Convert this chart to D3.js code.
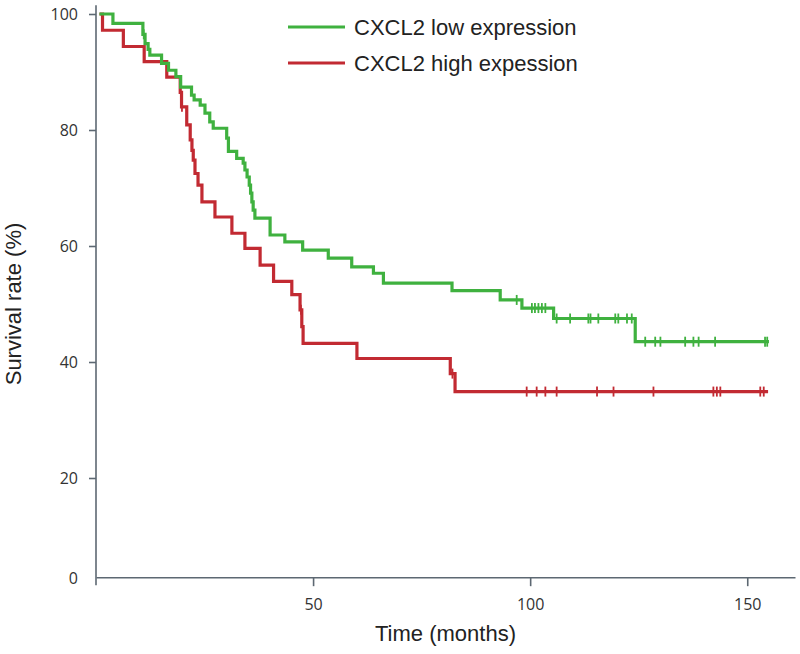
<!DOCTYPE html>
<html>
<head>
<meta charset="utf-8">
<script src="https://cdn.jsdelivr.net/npm/d3@7"></script>
<style>
  body { margin: 0; background: #fff; }
  svg { display: block; }
</style>
</head>
<body>
<svg id="drawing_region"></svg>
<script>
// Kaplan-Meier steps: survival (%) from each time (months) onward
const low_times = [0.8, 3.9, 10.8, 11.3, 12.0, 12.4, 15.1, 16.7, 18.4, 19.5, 22.0, 22.6, 24.0, 25.1, 26.2, 27.0,
                   30.1, 30.5, 32.4, 33.9, 34.3, 34.8, 35.3, 35.6, 35.9, 36.2, 36.6, 40.1, 43.5, 47.6, 53.5,
                   58.9, 63.9, 66.2, 82.0, 93.1, 98.1, 105.4, 124.2];
const low_surv  = [100, 98.4, 96.5, 94.9, 93.9, 92.9, 91.5, 90.3, 89.2, 87.4, 86.0, 85.2, 84.3, 82.9, 81.4, 80.3,
                   78.6, 76.3, 75.1, 74.3, 73.1, 71.9, 70.5, 69.1, 67.6, 66.2, 64.8, 61.9, 60.7, 59.3, 57.9,
                   56.4, 55.3, 53.6, 52.3, 50.7, 49.3, 47.5, 43.5];
const low_censor = [11.0, 96.9, 100.4, 101.1, 101.9, 102.7, 103.5, 106.1, 109.2, 113.4, 113.9, 115.7, 119.6,
                    120.3, 122.3, 123.4, 126.5, 128.8, 130.0, 135.7, 137.6, 138.8, 142.6, 154.1, 154.6];
const low_end = 155;

const high_times = [0.8, 1.5, 6.3, 11.1, 16.3, 19.4, 19.7, 20.9, 21.7, 22.1, 22.4, 22.8, 23.5, 24.4, 27.4, 31.3,
                    34.3, 37.8, 40.9, 45.1, 47.0, 47.4, 47.7, 60.1, 81.6, 82.7];
const high_surv  = [100, 97.2, 94.4, 91.8, 89.1, 86.5, 84.0, 80.9, 78.3, 76.5, 74.8, 72.5, 70.5, 67.6, 65.0, 62.2,
                    59.6, 56.7, 53.9, 51.6, 49.0, 46.1, 43.2, 40.6, 38.0, 34.9];
const high_censor = [19.8, 47.2, 82.1, 99.2, 101.5, 103.5, 106.1, 115.4, 119.2, 128.4, 142.2, 143.0, 143.8,
                     153.0, 153.8];
const high_end = 154.8;

const series_names  = ["CXCL2 low expression", "CXCL2 high expession"];
const series_colors = ["#3fb13f", "#c22a32"];
const x_ticks = [50, 100, 150];
const y_ticks = [20, 40, 60, 80, 100];

const config = {
  parent: '#drawing_region',
  width: 800,
  height: 654,
  margin: {top: 14, right: 5, bottom: 60, left: 96}
};

const groups = [
  {name: series_names[1], color: series_colors[1], times: high_times, surv: high_surv, censor: high_censor, end: high_end},
  {name: series_names[0], color: series_colors[0], times: low_times, surv: low_surv, censor: low_censor, end: low_end}
];

class SurvivalPlot {

  constructor( config, data ) {
    this.config = config;
    this.data = data;
    this.init();
  }

  init() {
    let self = this;

    self.svg = d3.select( self.config.parent )
        .attr('width', self.config.width)
        .attr('height', self.config.height);

    self.chart = self.svg.append('g')
        .attr('transform', `translate(${self.config.margin.left}, ${self.config.margin.top})`);

    self.inner_width = 699;
    self.inner_height = 580;

    self.xscale = d3.scaleLinear()
        .domain([0, 161])
        .range([0, self.inner_width]);

    self.yscale = d3.scaleLinear()
        .domain([0, 100])
        .range([self.inner_height, 0]);

    // the x axis sits a little above survival 0
    self.base = self.yscale(2.9);

    self.xaxis = d3.axisBottom( self.xscale )
        .tickValues(x_ticks)
        .tickSize(9)
        .tickPadding(12)
        .tickSizeOuter(0);

    self.yaxis = d3.axisLeft( self.yscale )
        .tickValues(y_ticks)
        .tickSize(7)
        .tickPadding(11)
        .tickSizeOuter(0);
  }

  render() {
    let self = this;
    const axis_color = '#5d6872';

    const xg = self.chart.append('g')
        .attr('transform', `translate(0, ${self.base})`)
        .call(self.xaxis);

    const yg = self.chart.append('g')
        .call(self.yaxis);
    yg.select('.domain').remove();

    yg.append('line')
        .attr('x1', 0).attr('x2', 0)
        .attr('y1', self.yscale(101.5))
        .attr('y2', self.base + 8);

    // "0" label placed on the x axis line
    yg.append('text')
        .attr('x', -18)
        .attr('y', self.base + 2)
        .attr('dy', '0.32em')
        .attr('text-anchor', 'end')
        .text('0');

    [xg, yg].forEach(g => {
      g.selectAll('path, line').attr('stroke', axis_color).attr('stroke-width', 1.6);
      g.selectAll('text')
          .attr('fill', '#333')
          .style('font-family', '"Open Sans", sans-serif')
          .style('font-size', '16px');
    });

    // axis titles
    self.svg.append('text')
        .attr('x', self.config.margin.left + self.xscale(80.5))
        .attr('y', 641)
        .attr('text-anchor', 'middle')
        .style('font-family', '"Liberation Sans", Arial, sans-serif')
        .style('font-size', '22px')
        .attr('fill', '#222')
        .text('Time (months)');

    self.svg.append('text')
        .attr('transform', `translate(21, ${self.config.margin.top + self.yscale(50)}) rotate(-90)`)
        .attr('text-anchor', 'middle')
        .style('font-family', '"Liberation Sans", Arial, sans-serif')
        .style('font-size', '22px')
        .attr('fill', '#222')
        .text('Survival rate (%)');

    const line = d3.line()
        .x(d => self.xscale(d[0]))
        .y(d => self.yscale(d[1]))
        .curve(d3.curveStepAfter);

    self.data.forEach(g => {
      const pts = g.times.map((t, i) => [t, g.surv[i]]);
      pts.push([g.end, g.surv[g.surv.length - 1]]);

      self.chart.append('path')
          .datum(pts)
          .attr('fill', 'none')
          .attr('stroke', g.color)
          .attr('stroke-width', 3.2)
          .attr('d', line);

      const bis = d3.bisector(d => d).right;
      const survAt = t => g.surv[Math.max(0, bis(g.times, t) - 1)];

      self.chart.append('g')
          .selectAll('line')
          .data(g.censor)
          .join('line')
          .attr('x1', d => self.xscale(d))
          .attr('x2', d => self.xscale(d))
          .attr('y1', d => self.yscale(survAt(d)) - 5)
          .attr('y2', d => self.yscale(survAt(d)) + 5)
          .attr('stroke', g.color)
          .attr('stroke-width', 1.8);
    });

    // legend
    const legend = self.svg.append('g')
        .attr('transform', 'translate(288, 27)');
    const items = legend.selectAll('g')
        .data([self.data[1], self.data[0]])
        .join('g')
        .attr('transform', (d, i) => `translate(0, ${i * 36})`);
    items.append('line')
        .attr('x1', 0).attr('x2', 57)
        .attr('stroke', d => d.color)
        .attr('stroke-width', 3);
    items.append('text')
        .attr('x', 66)
        .attr('dy', '0.35em')
        .style('font-family', '"Liberation Sans", Arial, sans-serif')
        .style('font-size', '22px')
        .attr('fill', '#222')
        .text(d => d.name);
  }
}

const plot = new SurvivalPlot( config, groups );
plot.render();
</script>
</body>
</html>
